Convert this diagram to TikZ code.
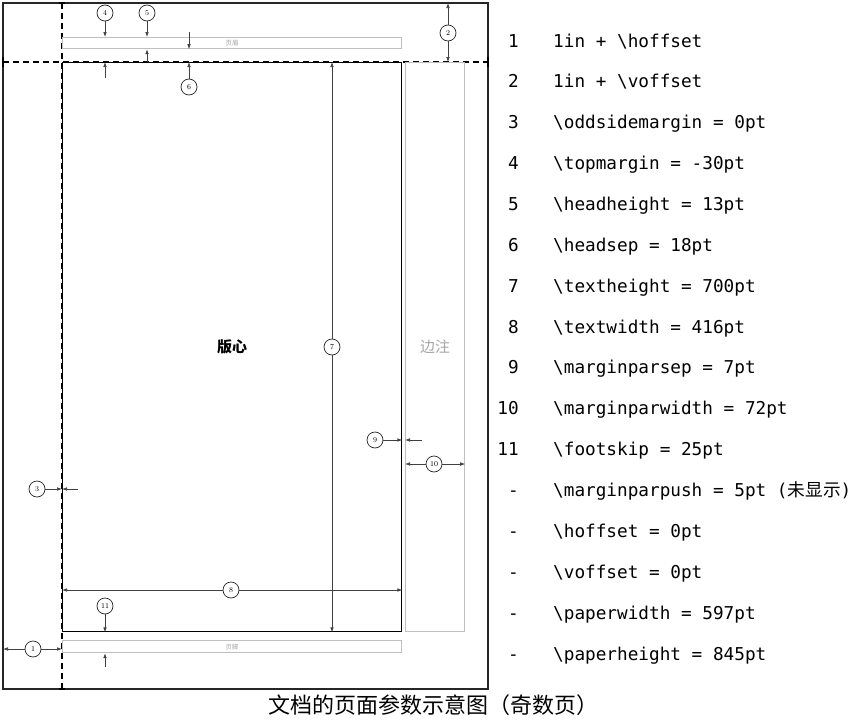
\documentclass[tikz,border=0pt]{standalone}
\usepackage{fontspec}
\setmonofont{DejaVu Sans Mono}
\newfontfamily\cjk{Noto Sans CJK SC}
\usetikzlibrary{arrows.meta}
\tikzset{
  dimln/.style={draw=black!75, line width=0.7pt},
  arr/.style={dimln, -{Latex[length=5pt,width=3.6pt]}},
  num/.style={circle, draw=black!85, line width=0.7pt, minimum size=16pt, inner sep=0pt, fill=white, font=\fontsize{7.5}{7.5}\selectfont},
  graybox/.style={draw=black!25, line width=1.2pt, inner sep=0pt, anchor=north west},
  dashln/.style={line width=1.4pt, dash pattern=on 6pt off 4pt},
  tick/.style={line width=1.4pt},
  listnum/.style={anchor=base east, inner sep=0pt, font=\ttfamily\fontsize{17.7}{20}\selectfont},
  listtxt/.style={anchor=base west, inner sep=0pt, font=\ttfamily\fontsize{17.7}{20}\selectfont},
}
\begin{document}
\begin{tikzpicture}[x=1pt,y=-1pt]
\useasboundingbox (0,0) rectangle (855,720);
% page frame
\coordinate (pTL) at (3,3);
\coordinate (pBR) at (488,689);
\draw[line width=1.1pt, black!85] (pTL) rectangle (pBR);
% 1in lines
\coordinate (vT) at (62,3);
\coordinate (vB) at (62,689);
\coordinate (hL) at (3,62);
\coordinate (hR) at (488,62);
\draw[dashln] (vT) -- (vB);
\draw[dashln] (hL) -- (hR);
\draw[tick] ([xshift=-3pt]vT) -- ([xshift=3pt]vT);
\draw[tick] ([xshift=-3pt]vB) -- ([xshift=3pt]vB);
\draw[tick] ([yshift=-5pt]hR) -- ([yshift=5pt]hR);
\draw[tick] ([yshift=-5pt]hL) -- ([yshift=5pt]hL);
% boxes
\node[graybox, minimum width=339pt, minimum height=11pt, font=\cjk\fontsize{6.5}{6.5}\selectfont, text=black!35] (head) at (62,37) {页眉};
\node[graybox, minimum width=339pt, minimum height=12pt, font=\cjk\fontsize{6.5}{6.5}\selectfont, text=black!35] (foot) at (62,640) {页脚};
\node[graybox, minimum width=59pt, minimum height=569pt, font=\cjk\fontsize{15}{15}\selectfont, text=black!35] (mpar) at (405,62) {边注};
\node[draw, line width=1.4pt, inner sep=0pt, anchor=north west, minimum width=339pt, minimum height=569pt, font=\cjk\bfseries\fontsize{15}{15}\selectfont] (body) at (62,62) {版心};
% circles
\node[num] (c1) at (33,649) {1};
\node[num] (c2) at (448,33) {2};
\node[num] (c3) at (37,489) {3};
\node[num] (c4) at (105,13) {4};
\node[num] (c5) at (147,13) {5};
\node[num] (c6) at (189,87) {6};
\node[num] (c7) at (332,347) {7};
\node[num] (c8) at (231,590) {8};
\node[num] (c9) at (375,440) {9};
\node[num] (c10) at (434,464) {10};
\node[num] (c11) at (105,606) {11};
% free ends
\coordinate (a4) at (105,78);
\coordinate (a5) at (147,62);
\coordinate (a6) at (189,32);
\coordinate (a9) at (422,440);
\coordinate (a3) at (78,489);
\coordinate (a11) at (105,667);
% dimension arrows
\draw[arr] (c1) -- (c1 -| pTL);
\draw[arr] (c1) -- (c1 -| body.west);
\draw[arr] (c2) -- (c2 |- pTL);
\draw[arr] (c2) -- (c2 |- hR);
\draw[arr] (c3) -- (c3 -| body.west);
\draw[arr] (a3) -- (a3 -| body.west);
\draw[arr] (c4) -- (c4 |- head.north);
\draw[arr] (a4) -- (a4 |- body.north);
\draw[arr] (c5) -- (c5 |- head.north);
\draw[arr] (a5) -- (a5 |- head.south);
\draw[arr] (a6) -- (a6 |- head.south);
\draw[arr] (c6) -- (c6 |- body.north);
\draw[arr] (c7) -- (c7 |- body.north);
\draw[arr] (c7) -- (c7 |- body.south);
\draw[arr] (c8) -- (c8 -| body.west);
\draw[arr] (c8) -- (c8 -| body.east);
\draw[arr] (c9) -- (c9 -| body.east);
\draw[arr] (a9) -- (a9 -| mpar.west);
\draw[arr] (c10) -- (c10 -| mpar.west);
\draw[arr] (c10) -- (c10 -| mpar.east);
\draw[arr] (c11) -- (c11 |- body.south);
\draw[arr] (a11) -- (a11 |- foot.south);
% list
\foreach \n/\t [count=\i from 0] in {
  1/{1in + \textbackslash hoffset},
  2/{1in + \textbackslash voffset},
  3/{\textbackslash oddsidemargin = 0pt},
  4/{\textbackslash topmargin = -30pt},
  5/{\textbackslash headheight = 13pt},
  6/{\textbackslash headsep = 18pt},
  7/{\textbackslash textheight = 700pt},
  8/{\textbackslash textwidth = 416pt},
  9/{\textbackslash marginparsep = 7pt},
  10/{\textbackslash marginparwidth = 72pt},
  11/{\textbackslash footskip = 25pt},
  -/{\textbackslash marginparpush = 5pt ({\cjk 未显示})},
  -/{\textbackslash hoffset = 0pt},
  -/{\textbackslash voffset = 0pt},
  -/{\textbackslash paperwidth = 597pt},
  -/{\textbackslash paperheight = 845pt}} {
  \node[listnum] (n\i) at (519,47+40.87*\i) {\n};
  \node[listtxt] (t\i) at (553,47+40.87*\i) {\t};
}
% caption
\node[font=\cjk\fontsize{22}{22}\selectfont] (cap) at (433,705) {文档的页面参数示意图（奇数页）};
\end{tikzpicture}
\end{document}
